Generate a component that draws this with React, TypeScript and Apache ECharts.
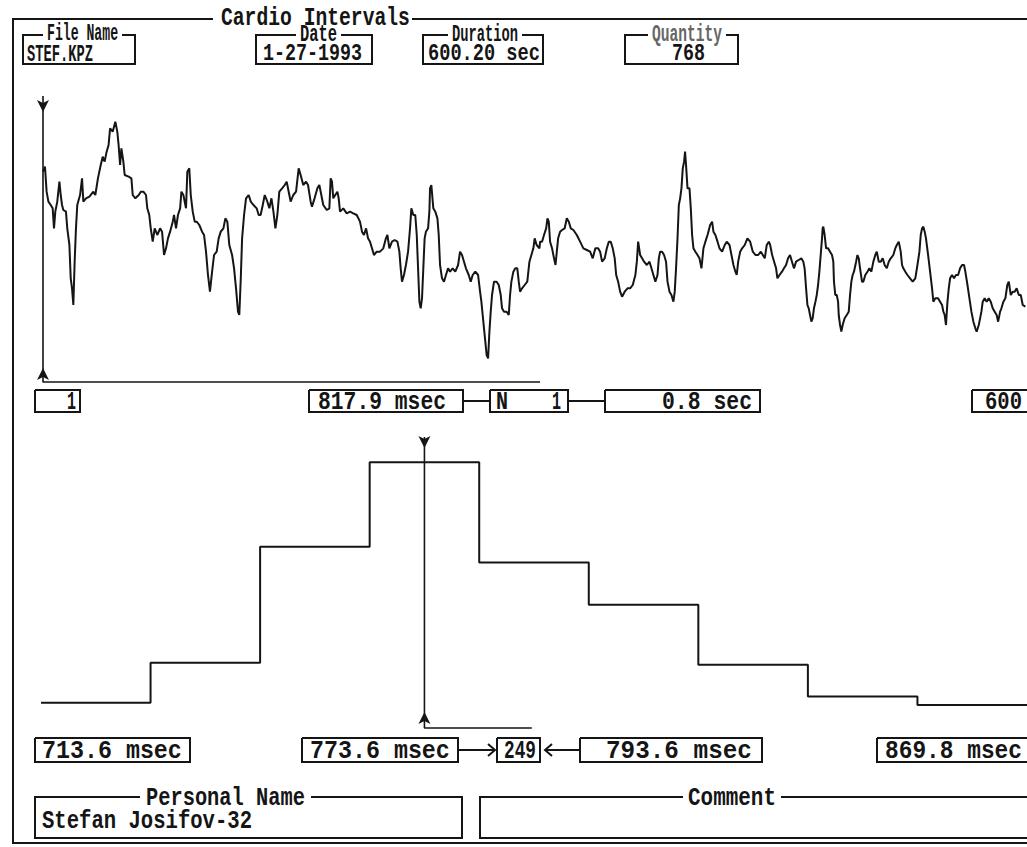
import React, { useEffect, useRef } from "react";
import * as echarts from "echarts";

// ---------------- data ----------------
const TITLE = "Cardio Intervals";
const headerLabels = ["File Name", "Date", "Duration", "Quantity"];
const headerValues = ["STEF.KPZ", "1-27-1993", "600.20 sec", "768"];

// RR interval trace: [time in s, interval in msec]
const rrPoints: number[][] = [
  [0,822],[1.2,825],[2.2,810],[3.3,804],[4.7,802],[5.9,800],[6.7,788],[7.5,798],[8.7,804],[10.0,816],[10.8,808],[11.6,802],[12.4,799],[14.0,798],[14.8,788],[16.1,778],[16.9,758],[17.7,752],[18.5,742],[19.3,768],[20.1,788],[20.9,802],[22.6,808],[23.8,818],[24.6,804],[26.2,806],[28.3,807],[30.7,810],[31.9,808],[33.5,818],[35.2,826],[36.4,831],[37.6,828],[38.8,834],[40.0,838],[40.9,848],[42.5,846],[44.1,852],[45.3,846],[46.1,838],[47.0,826],[47.8,836],[49.0,828],[49.8,820],[52.2,819],[53.9,818],[54.7,808],[56.3,806],[58.4,808],[59.6,810],[61.2,810],[62.8,808],[63.6,800],[64.8,796],[65.7,788],[66.9,780],[68.1,788],[69.7,784],[71.4,788],[72.6,786],[73.8,772],[75.0,776],[76.2,782],[77.5,786],[79.1,792],[79.9,796],[81.1,788],[82.3,796],[83.6,800],[84.4,810],[85.6,808],[87.2,800],[88.0,822],[89.2,824],[90.1,808],[91.3,798],[92.5,792],[93.7,792],[95.3,790],[97.0,786],[98.2,784],[99.4,774],[100.6,760],[101.8,750],[103.1,762],[104.3,772],[105.9,774],[107.1,782],[108.4,786],[110.0,788],[111.2,794],[112.4,792],[113.6,778],[115.3,772],[116.5,764],[117.7,752],[118.9,738],[119.7,736],[120.6,758],[121.4,782],[122.6,796],[123.8,806],[125.4,808],[126.7,804],[128.3,802],[130.3,800],[131.5,796],[132.7,796],[134.0,802],[135.2,808],[136.8,804],[138.0,800],[139.3,806],[140.5,798],[141.7,788],[142.9,796],[144.1,810],[145.8,812],[147.4,814],[148.6,816],[150.2,808],
  [151.0,804],[152.6,808],[154.3,810],[155.9,824],[157.1,820],[158.7,814],[160.4,816],[161.6,814],[163.2,804],[164.0,801],[165.6,806],[167.3,812],[168.5,814],[169.7,808],[170.9,802],[173.0,799],[174.6,800],[175.4,818],[176.2,816],[177.0,806],[178.2,808],[179.5,810],[180.3,806],[181.1,798],[183.1,800],[185.2,797],[187.2,798],[189.2,797],[191.3,796],[193.3,792],[194.5,786],[195.7,784],[197.0,788],[198.2,782],[199.4,780],[200.6,776],[201.8,772],[203.5,774],[205.5,774],[207.5,776],[209.1,782],[210.0,784],[211.2,776],[212.8,780],[214.4,781],[216.1,780],[217.3,774],[218.1,764],[218.9,756],[220.1,760],[221.3,766],[222.6,774],[223.8,788],[224.6,800],[225.8,796],[227.0,796],[227.9,784],[228.7,764],[229.5,744],[230.3,740],[231.1,746],[231.9,764],[232.7,782],[233.5,786],[234.8,788],[235.6,798],[236.0,812],[236.8,814],[238.0,800],[239.2,798],[240.5,794],[241.3,784],[242.1,766],[243.3,758],[244.5,756],[245.7,760],[247.0,764],[248.2,762],[249.8,764],[251.4,762],[253.1,766],[254.3,774],[255.5,772],[256.7,768],[257.9,764],[259.6,760],[260.8,756],[262.0,760],[263.6,762],[265.3,760],[266.5,750],[267.3,744],[268.1,736],[268.9,728],[269.7,720],[270.5,712],[271.4,710],[272.2,726],[273.0,738],[273.8,748],[275.0,756],[276.6,756],[277.9,754],[279.1,748],[279.9,740],[281.1,738],[282.7,738],[284.0,736],[284.8,748],[285.6,756],[286.8,762],[288.0,764],[289.2,764],[290.1,756],[290.9,750],[292.1,752],[293.7,754],[295.3,756],[296.6,768],[297.8,772],[299.0,776],[299.8,782],[301.0,778],[302.7,776],
  [303.1,780],[304.3,780],[305.5,784],[306.8,788],[307.6,794],[308.4,792],[309.2,780],[310.4,776],[311.6,770],[312.5,766],[313.3,774],[314.1,782],[315.3,786],[316.5,787],[318.1,788],[319.4,794],[320.6,792],[321.8,788],[323.4,787],[325.5,784],[327.5,780],[329.5,776],[331.6,775],[333.6,774],[335.2,770],[336.8,776],[338.5,776],[339.7,774],[340.9,768],[342.5,770],[343.8,776],[345.0,780],[346.2,780],[347.4,776],[348.6,770],[349.5,760],[350.7,756],[351.9,750],[353.1,747],[354.7,750],[356.4,752],[358.0,752],[359.6,754],[361.2,760],[362.1,768],[362.9,780],[364.1,772],[365.3,770],[366.5,768],[368.2,766],[369.8,768],[371.0,764],[372.2,760],[373.4,756],[374.7,760],[375.5,770],[376.3,774],[377.5,774],[378.7,772],[379.9,768],[380.8,756],[382.0,750],[383.2,748],[384.4,744],[385.2,750],[386.0,764],[386.9,782],[387.7,802],[388.5,806],[389.3,812],[390.1,824],[390.9,828],[391.5,834],[392.1,826],[393.0,812],[394.2,812],[395.0,800],[395.8,784],[396.6,776],[397.8,774],[399.1,772],[400.3,770],[401.5,764],[402.7,776],[403.9,780],[405.2,784],[406.8,790],[408.0,792],[408.8,786],[410.0,784],[411.3,780],[412.5,776],[414.1,774],[415.7,778],[416.9,780],[418.6,778],[419.8,772],[421.0,766],[422.2,762],[423.0,760],[423.9,768],[425.1,774],[426.3,776],[427.9,778],[429.5,782],[431.2,780],[432.8,774],[434.4,772],[436.1,772],[437.7,774],[438.9,772],[440.1,770],[441.3,778],[442.6,780],[443.4,778],[444.6,772],[445.8,768],[447.0,764],[447.8,758],[449.1,760],
  [450.6,762],[451.8,764],[453.1,766],[454.3,770],[455.5,772],[456.7,768],[457.9,764],[459.2,768],[460.8,769],[462.4,770],[463.6,768],[464.4,764],[465.3,752],[466.1,742],[466.9,740],[467.7,736],[468.5,732],[469.3,734],[470.1,740],[471.0,744],[471.8,748],[472.6,754],[473.4,762],[474.2,772],[475.0,782],[475.4,788],[475.8,789],[476.6,784],[477.5,776],[478.7,776],[479.9,774],[481.1,772],[481.9,768],[482.3,756],[483.1,748],[484.0,748],[484.8,744],[485.2,736],[486.0,730],[486.8,726],[487.6,730],[488.8,734],[490.1,736],[491.3,738],[492.1,748],[492.9,756],[493.7,760],[494.5,762],[495.8,768],[496.6,772],[497.4,770],[498.2,764],[499.4,756],[500.2,756],[501.4,760],[502.7,762],[503.9,764],[505.1,762],[506.3,768],[507.5,772],[508.4,774],[509.6,768],[510.8,768],[512.0,770],[513.2,766],[514.5,764],[515.7,768],[516.9,770],[518.5,772],[519.7,776],[520.6,778],[521.8,780],[523.0,774],[523.8,766],[524.6,764],[525.8,762],[527.1,760],[528.7,758],[530.3,756],[531.9,758],[533.2,766],[534.4,774],[535.2,784],[536.0,788],[536.8,789],[537.6,786],[538.4,782],[539.7,772],[540.9,762],[542.1,752],[542.9,744],[544.1,746],[545.8,746],[547.0,744],[548.2,742],[549.0,738],[549.8,736],[550.6,730],[551.5,744],[552.3,752],[553.1,758],[554.3,760],[555.5,758],[556.7,760],[558.0,760],[559.2,764],[560.4,766],[561.6,766],[562.4,762],[563.7,754],[564.9,746],[566.1,738],[567.3,732],[568.5,728],[569.3,726],[570.6,730],[571.4,734],[572.2,738],[573.0,744],[574.2,746],[575.4,744],[576.7,746],[577.9,744],[579.1,740],[580.3,738],[581.5,736],[582.4,732],[583.6,738],[584.4,740],[585.6,744],[586.8,746],[588.0,754],[588.9,756],[590.1,748],[591.3,750],[592.5,750],[593.7,752],[595.0,748],[596.2,748],[597.4,742],[599.0,741]
];
const timeMin = 0;
const timeMax = 600;
const msecMin = 698.2;
const msecMax = 867.4;

// histogram of intervals (20 msec bins)
const binEdges = [713.6, 733.6, 753.6, 773.6, 793.6, 813.6, 833.6, 853.6, 873.6, 893.6];
const binCounts = [21, 59, 169, 249, 154, 114, 57, 27, 19];
const countMax = 273;

// cursors
const waveCursorTime = 0;
const waveWindowEnd = 303.1;
const waveBracketMsec = 695.8;
const waveArrowTop = 857.8;
const waveArrowBottom = 704.2;
const histCursorMsec = 783.6;
const histWindowEnd = 803.2;
const histBracketCount = -2.8;
const histArrowTop = 262.6;
const histArrowBottom = 12.3;

// readouts
const waveStartLabel = "1";
const waveCursorLabel = "817.9 msec";
const beatLabel = "N";
const beatValue = "1";
const waveTimeLabel = "0.8 sec";
const waveEndLabel = "600";
const histMinLabel = "713.6 msec";
const binLowLabel = "773.6 msec";
const binCountLabel = "249";
const binHighLabel = "793.6 msec";
const histMaxLabel = "869.8 msec";
const personalLabel = "Personal Name";
const personalValue = "Stefan Josifov-32";
const commentLabel = "Comment";

const FONT_FAMILY = '"Liberation Mono", "DejaVu Sans Mono", monospace';
const INK = "#151515";

export default function App() {
  const ref = useRef<HTMLDivElement>(null);

  useEffect(() => {
    const el = ref.current;
    if (!el) return;
    const chart = echarts.init(el, null, { renderer: "svg" });
    const canvas = document.createElement("canvas");
    const ctx = canvas.getContext("2d") as CanvasRenderingContext2D;

    // text fitted between left and right, vertically centred on cy
    const txt = (text: string, left: number, right: number, cy: number, opt: any = {}) => {
      const size = opt.size ?? 22;
      const weight = opt.weight ?? "bold";
      const sy = opt.scaleY ?? 1.18;
      ctx.font = `${weight} ${size}px ${FONT_FAMILY}`;
      const w = ctx.measureText(text).width || 1;
      return {
        type: "text",
        x: left,
        y: cy + 1,
        scaleX: (right - left) / w,
        scaleY: sy,
        silent: true,
        style: {
          text,
          fontSize: size,
          fontFamily: FONT_FAMILY,
          fontWeight: weight,
          fill: opt.color ?? INK,
          align: "left",
          verticalAlign: "middle",
          textAlign: "left",
          textVerticalAlign: "middle",
        },
      };
    };
    const poly = (points: number[][], w = 2) => ({
      type: "polyline",
      silent: true,
      shape: { points },
      style: { stroke: INK, lineWidth: w, fill: null },
    });
    const box = (x1: number, y1: number, x2: number, y2: number, gap?: number[]) =>
      gap
        ? poly([[gap[0], y1], [x1, y1], [x1, y2], [x2, y2], [x2, y1], [gap[1], y1]])
        : poly([[x1, y1], [x1, y2], [x2, y2], [x2, y1], [x1, y1]]);

    const H = { scaleY: 1.12 };
    const graphics: any[] = [
      // outer frame
      poly([[213, 19], [13, 19], [13, 843], [1035, 843]]),
      poly([[412, 19], [1035, 19]]),
      txt(TITLE, 221, 410, 17),
      // header boxes
      box(23, 35, 135, 64, [43, 122]),
      txt(headerLabels[0], 47, 118, 33, H),
      txt(headerValues[0], 27, 93, 53, H),
      box(256, 35, 372, 64, [296, 341]),
      txt(headerLabels[1], 300, 337, 33, H),
      txt(headerValues[1], 263, 362, 53, H),
      box(423, 35, 543, 64, [448, 522]),
      txt(headerLabels[2], 452, 518, 33, H),
      txt(headerValues[2], 428, 540, 53, H),
      box(625, 35, 738, 64, [648, 726]),
      txt(headerLabels[3], 652, 722, 33, { ...H, color: "#666" }),
      txt(headerValues[3], 672, 705, 53, H),
      // row of waveform readouts
      box(35, 390, 80, 412),
      txt(waveStartLabel, 67, 76, 401),
      box(309, 390, 463, 412),
      txt(waveCursorLabel, 318, 446, 401),
      poly([[463, 401], [490, 401]]),
      box(490, 390, 568, 412),
      txt(beatLabel, 496, 508, 401),
      txt(beatValue, 552, 561, 401),
      poly([[568, 401], [605, 401]]),
      box(605, 390, 760, 412),
      txt(waveTimeLabel, 662, 752, 401),
      box(972, 390, 1035, 412),
      txt(waveEndLabel, 985, 1022, 401),
      // row of histogram readouts
      box(35, 738, 190, 762),
      txt(histMinLabel, 42, 182, 750),
      box(302, 738, 458, 762),
      txt(binLowLabel, 310, 450, 750),
      poly([[458, 750], [494, 750]]),
      poly([[488, 744], [495, 750], [488, 756]]),
      box(497, 738, 540, 762),
      txt(binCountLabel, 504, 536, 750),
      poly([[546, 750], [580, 750]]),
      poly([[552, 744], [545, 750], [552, 756]]),
      box(580, 738, 762, 762),
      txt(binHighLabel, 606, 752, 750),
      box(877, 738, 1035, 762),
      txt(histMaxLabel, 885, 1022, 750),
      // personal name / comment
      box(35, 797, 462, 838, [140, 311]),
      txt(personalLabel, 146, 305, 797),
      txt(personalValue, 42, 252, 820),
      box(480, 797, 1035, 838, [683, 781]),
      txt(commentLabel, 688, 776, 797),
    ];

    const histData = binEdges.map((e, i) => [e, binCounts[Math.min(i, binCounts.length - 1)]]);

    const arrowItem = (v: number[], rot: number) => ({
      value: v,
      symbol: "arrow",
      symbolSize: [9, 12],
      symbolRotate: rot,
    });
    const plain = (v: number[]) => ({ value: v, symbol: "none" });

    chart.setOption({
      animation: false,
      backgroundColor: "#ffffff",
      grid: [
        { left: 43, top: 96, width: 984, height: 282 },
        { left: 41, top: 437, width: 988, height: 288 },
      ],
      xAxis: [
        { type: "value", gridIndex: 0, min: timeMin, max: timeMax, show: false },
        { type: "value", gridIndex: 1, min: binEdges[0], max: binEdges[binEdges.length - 1], show: false },
      ],
      yAxis: [
        { type: "value", gridIndex: 0, min: msecMin, max: msecMax, show: false },
        { type: "value", gridIndex: 1, min: 0, max: countMax, show: false },
      ],
      series: [
        {
          type: "line",
          xAxisIndex: 0,
          yAxisIndex: 0,
          data: rrPoints,
          symbol: "none",
          silent: true,
          lineStyle: { color: INK, width: 2 },
        },
        {
          type: "line",
          xAxisIndex: 0,
          yAxisIndex: 0,
          clip: false,
          silent: true,
          symbol: "arrow",
          itemStyle: { color: INK },
          lineStyle: { color: INK, width: 1.6 },
          data: [
            plain([waveCursorTime, msecMax]),
            arrowItem([waveCursorTime, waveArrowTop], 180),
            arrowItem([waveCursorTime, waveArrowBottom], 0),
            plain([waveCursorTime, waveBracketMsec]),
            plain([waveWindowEnd, waveBracketMsec]),
          ],
        },
        {
          type: "line",
          xAxisIndex: 1,
          yAxisIndex: 1,
          step: "end",
          data: histData,
          symbol: "none",
          silent: true,
          lineStyle: { color: INK, width: 2 },
        },
        {
          type: "line",
          xAxisIndex: 1,
          yAxisIndex: 1,
          clip: false,
          silent: true,
          symbol: "arrow",
          itemStyle: { color: INK },
          lineStyle: { color: INK, width: 1.6 },
          data: [
            plain([histCursorMsec, countMax]),
            arrowItem([histCursorMsec, histArrowTop], 180),
            arrowItem([histCursorMsec, histArrowBottom], 0),
            plain([histCursorMsec, histBracketCount]),
            plain([histWindowEnd, histBracketCount]),
          ],
        },
      ],
      graphic: { elements: graphics },
    });

    return () => chart.dispose();
  }, []);

  return (
    <div
      ref={ref}
      style={{ position: "fixed", left: 0, top: 0, width: 1027, height: 847, background: "#fff" }}
    />
  );
}
